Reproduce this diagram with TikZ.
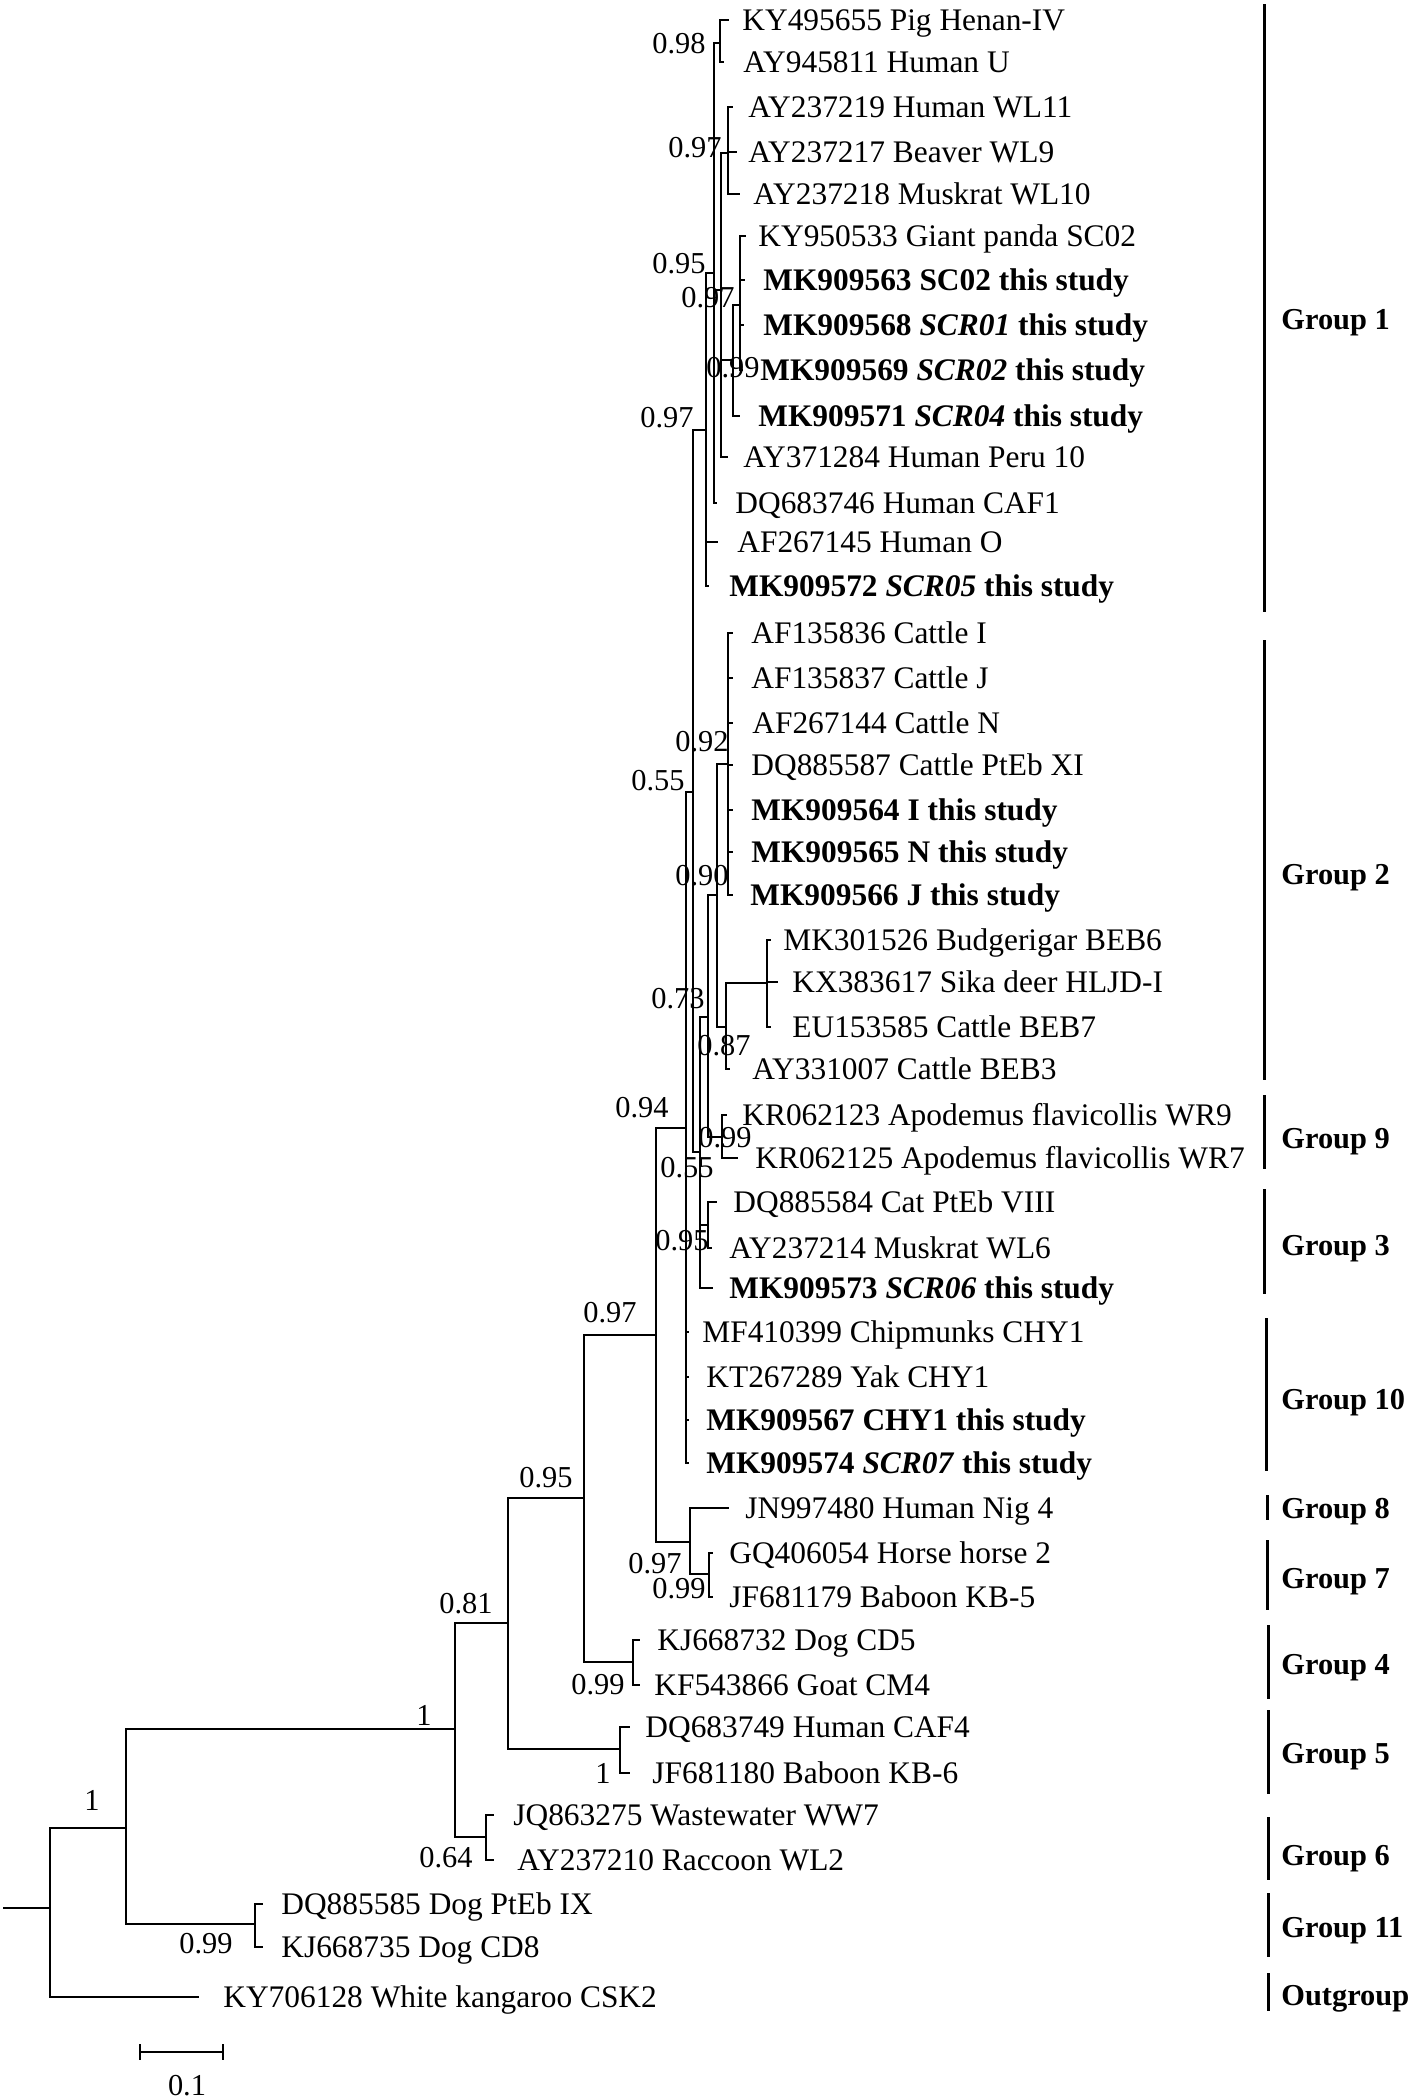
\documentclass[tikz,border=0pt]{standalone}
\usepackage{fontspec}
\setmainfont{Liberation Serif}
\tikzset{
 branch/.style={draw=black, line width=0.9pt},
 leaflabel/.style={anchor=base west, inner sep=0pt, font=\fontsize{15.7}{18}\selectfont},
 supp/.style={anchor=base, inner sep=0pt, font=\fontsize{15.2}{18}\selectfont},
 grplabel/.style={anchor=base west, inner sep=0pt, font=\fontsize{15.2}{18}\selectfont\bfseries},
 gbar/.style={draw=black, line width=1.5pt},
}
\newcommand{\lf}[6]{\coordinate (t#1) at (#2,#3); \node[leaflabel] (L#1) at (#4,{#3+10}) {#5}; \draw[branch] (#6) |- (t#1);}
\newcommand{\sv}[4]{\node[supp] (#1) at (#2,{#3+10}) {#4};}
\newcommand{\grp}[6]{\coordinate (#1a) at (#2,#3); \coordinate (#1b) at (#2,#4); \draw[gbar] (#1a) -- (#1b); \node[grplabel] (#1) at (1281,{#5+10}) {#6};}
\begin{document}
\begin{tikzpicture}[x=0.5pt,y=-0.5pt]
\path[use as bounding box, fill=white] (0,0) rectangle (1418,2099);
% internal nodes
\coordinate (root) at (50,1908);
\coordinate (r0) at (3,1908);
\coordinate (n1) at (126,1828);
\coordinate (n2) at (455,1729);
\coordinate (n3) at (508,1623);
\coordinate (nE) at (584,1498);
\coordinate (nB) at (656,1335);
\coordinate (nAA) at (686,1128);
\coordinate (nV) at (693,792);
\coordinate (nU) at (706,430);
\coordinate (nQ) at (714,273);
\coordinate (nP) at (720,43);
\coordinate (nS) at (721,290);
\coordinate (nWL) at (728,153);
\coordinate (nT) at (733,360);
\coordinate (nSC) at (740,305);
\coordinate (nW) at (700,1152);
\coordinate (nZ) at (708,1017);
\coordinate (nY) at (717,895);
\coordinate (nG2) at (728,764);
\coordinate (nX) at (726,1027);
\coordinate (nBEB) at (767,983);
\coordinate (nG9) at (722,1137);
\coordinate (nG3) at (708,1225);
\coordinate (nCC) at (690,1542);
\coordinate (nDD) at (709,1574);
\coordinate (nG4) at (633,1662);
\coordinate (nG5) at (620,1749);
\coordinate (nG6) at (486,1837);
\coordinate (nG11) at (255,1924);
% internal edges
\draw[branch] (r0) -- (root);
\draw[branch] (root) |- (n1);
\draw[branch] (n1) |- (n2);
\draw[branch] (n1) |- (nG11);
\draw[branch] (n2) |- (n3);
\draw[branch] (n2) |- (nG6);
\draw[branch] (n3) |- (nE);
\draw[branch] (n3) |- (nG5);
\draw[branch] (nE) |- (nB);
\draw[branch] (nE) |- (nG4);
\draw[branch] (nB) |- (nAA);
\draw[branch] (nB) |- (nCC);
\draw[branch] (nCC) |- (nDD);
\draw[branch] (nAA) |- (nV);
\draw[branch] (nV) |- (nU);
\draw[branch] (nV) |- (nW);
\draw[branch] (nU) |- (nQ);
\draw[branch] (nQ) |- (nP);
\draw[branch] (nQ) |- (nS);
\draw[branch] (nS) |- (nWL);
\draw[branch] (nS) |- (nT);
\draw[branch] (nT) |- (nSC);
\draw[branch] (nW) |- (nZ);
\draw[branch] (nW) |- (nG3);
\draw[branch] (nZ) |- (nY);
\draw[branch] (nZ) |- (nG9);
\draw[branch] (nY) |- (nG2);
\draw[branch] (nY) |- (nX);
\draw[branch] (nX) |- (nBEB);
% leaves
\lf{1}{729}{20}{742}{KY495655 Pig Henan-IV}{nP}
\lf{2}{724}{62}{743}{AY945811 Human U}{nP}
\lf{3}{733}{107}{748}{AY237219 Human WL11}{nWL}
\lf{4}{737}{152}{748}{AY237217 Beaver WL9}{nWL}
\lf{5}{740}{194}{753}{AY237218 Muskrat WL10}{nWL}
\lf{6}{746}{236}{758}{KY950533 Giant panda SC02}{nSC}
\lf{7}{745}{280}{763}{\textbf{MK909563 SC02 this study}}{nSC}
\lf{8}{744}{325}{763}{\textbf{MK909568 \textit{SCR01} this study}}{nSC}
\lf{9}{743}{370}{760}{\textbf{MK909569 \textit{SCR02} this study}}{nSC}
\lf{10}{740}{416}{758}{\textbf{MK909571 \textit{SCR04} this study}}{nT}
\lf{11}{728}{457}{743}{AY371284 Human Peru 10}{nS}
\lf{12}{717}{503}{735}{DQ683746 Human CAF1}{nQ}
\lf{13}{718}{542}{737}{AF267145 Human O}{nU}
\lf{14}{709}{586}{729}{\textbf{MK909572 \textit{SCR05} this study}}{nU}
\lf{15}{733}{633}{751}{AF135836 Cattle I}{nG2}
\lf{16}{733}{678}{751}{AF135837 Cattle J}{nG2}
\lf{17}{733}{723}{752}{AF267144 Cattle N}{nG2}
\lf{18}{733}{765}{751}{DQ885587 Cattle PtEb XI}{nG2}
\lf{19}{733}{810}{751}{\textbf{MK909564 I this study}}{nG2}
\lf{20}{733}{852}{751}{\textbf{MK909565 N this study}}{nG2}
\lf{21}{733}{895}{750}{\textbf{MK909566 J this study}}{nG2}
\lf{22}{771}{940}{783}{MK301526 Budgerigar BEB6}{nBEB}
\lf{23}{778}{982}{792}{KX383617 Sika deer HLJD-I}{nBEB}
\lf{24}{771}{1027}{792}{EU153585 Cattle BEB7}{nBEB}
\lf{25}{730}{1069}{752}{AY331007 Cattle BEB3}{nX}
\lf{26}{727}{1115}{742}{KR062123 Apodemus flavicollis WR9}{nG9}
\lf{27}{738}{1158}{755}{KR062125 Apodemus flavicollis WR7}{nG9}
\lf{28}{717}{1202}{733}{DQ885584 Cat PtEb VIII}{nG3}
\lf{29}{712}{1248}{729}{AY237214 Muskrat WL6}{nG3}
\lf{30}{713}{1288}{729}{\textbf{MK909573 \textit{SCR06} this study}}{nW}
\lf{31}{689}{1332}{702}{MF410399 Chipmunks CHY1}{nAA}
\lf{32}{689}{1377}{706}{KT267289 Yak CHY1}{nAA}
\lf{33}{689}{1420}{706}{\textbf{MK909567 CHY1 this study}}{nAA}
\lf{34}{689}{1463}{706}{\textbf{MK909574 \textit{SCR07} this study}}{nAA}
\lf{35}{729}{1508}{745}{JN997480 Human Nig 4}{nCC}
\lf{36}{713}{1553}{729}{GQ406054 Horse horse 2}{nDD}
\lf{37}{713}{1597}{729}{JF681179 Baboon KB-5}{nDD}
\lf{38}{640}{1640}{657}{KJ668732 Dog CD5}{nG4}
\lf{39}{640}{1685}{654}{KF543866 Goat CM4}{nG4}
\lf{40}{630}{1727}{645}{DQ683749 Human CAF4}{nG5}
\lf{41}{630}{1773}{652}{JF681180 Baboon KB-6}{nG5}
\lf{42}{494}{1815}{513}{JQ863275 Wastewater WW7}{nG6}
\lf{43}{494}{1860}{517}{AY237210 Raccoon WL2}{nG6}
\lf{44}{263}{1904}{281}{DQ885585 Dog PtEb IX}{nG11}
\lf{45}{263}{1947}{281}{KJ668735 Dog CD8}{nG11}
\lf{46}{199}{1997}{223}{KY706128 White kangaroo CSK2}{root}
% support values
\sv{s1}{679}{43}{0.98}
\sv{s2}{695}{147}{0.97}
\sv{s3}{679}{263}{0.95}
\sv{s4}{708}{297}{0.97}
\sv{s5}{733}{367}{0.99}
\sv{s6}{667}{417}{0.97}
\sv{s7}{702}{741}{0.92}
\sv{s8}{658}{780}{0.55}
\sv{s9}{702}{875}{0.90}
\sv{s10}{678}{998}{0.73}
\sv{s11}{724}{1045}{0.87}
\sv{s12}{642}{1107}{0.94}
\sv{s13}{725}{1137}{0.99}
\sv{s14}{687}{1167}{0.55}
\sv{s15}{682}{1240}{0.95}
\sv{s16}{610}{1312}{0.97}
\sv{s17}{546}{1477}{0.95}
\sv{s18}{655}{1563}{0.97}
\sv{s19}{679}{1588}{0.99}
\sv{s20}{466}{1603}{0.81}
\sv{s21}{598}{1684}{0.99}
\sv{s22}{424}{1715}{1}
\sv{s23}{603}{1773}{1}
\sv{s24}{92}{1800}{1}
\sv{s25}{446}{1857}{0.64}
\sv{s26}{206}{1943}{0.99}
% groups
\grp{g1}{1264}{4}{612}{319}{Group 1}
\grp{g2}{1264}{640}{1080}{874}{Group 2}
\grp{g9}{1264}{1095}{1169}{1138}{Group 9}
\grp{g3}{1264}{1189}{1294}{1245}{Group 3}
\grp{g10}{1266}{1318}{1471}{1399}{Group 10}
\grp{g8}{1267}{1495}{1520}{1508}{Group 8}
\grp{g7}{1267}{1540}{1610}{1578}{Group 7}
\grp{g4}{1268}{1625}{1699}{1664}{Group 4}
\grp{g5}{1268}{1710}{1794}{1753}{Group 5}
\grp{g6}{1268}{1817}{1880}{1855}{Group 6}
\grp{g11}{1268}{1893}{1957}{1927}{Group 11}
\grp{gout}{1268}{1973}{2011}{1995}{Outgroup}
% scale bar
\coordinate (sbL) at (140,2052);
\coordinate (sbR) at (223,2052);
\draw[branch] (sbL) -- (sbR);
\draw[branch] ([yshift=4pt]sbL) -- ([yshift=-4pt]sbL);
\draw[branch] ([yshift=4pt]sbR) -- ([yshift=-4pt]sbR);
\node[supp] (sblabel) at (187,2095) {0.1};
\end{tikzpicture}
\end{document}
